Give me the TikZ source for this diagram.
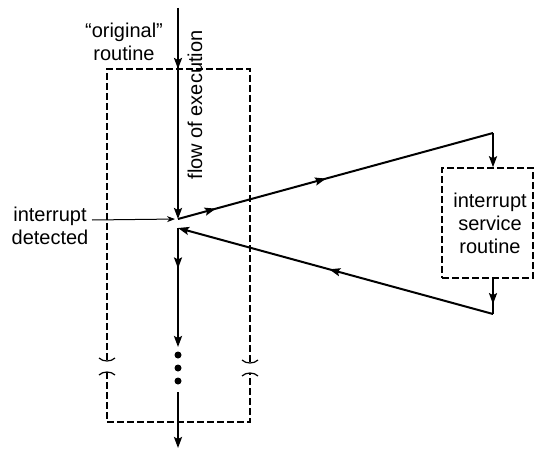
\documentclass[tikz,border=0pt]{standalone}
\usepackage{fontspec}
\setmainfont{Liberation Sans}
\usetikzlibrary{arrows.meta,decorations.markings,calc}
\begin{document}
\begin{tikzpicture}[x=0.5pt,y=-0.5pt,
  tip/.tip={Stealth[length=5.5pt,width=4pt,inset=1pt]},
  flow/.style={line width=1pt},
  dbox/.style={line width=0.75pt,dash pattern=on 3.5pt off 1.5pt},
  lbl/.style={font=\fontsize{10}{11.5}\selectfont,align=center,inner sep=0pt},
  midarrow/.style={postaction={decorate},decoration={markings,mark=at position #1 with {\arrow{tip}}}},
  midarrows/.style 2 args={postaction={decorate},decoration={markings,mark=at position #1 with {\arrow{tip}},mark=at position #2 with {\arrow{tip}}}},
  brk/.style={line width=0.6pt},
  dot/.style={circle,fill=black,inner sep=0pt,minimum size=3.5pt}]
\useasboundingbox (0,0) rectangle (535,449);

% coordinates
\coordinate (top) at (178,8);
\coordinate (apex) at (178,219);
\coordinate (ret) at (178,228);
\coordinate (c1) at (493,133);
\coordinate (c2) at (493,314);
\coordinate (low) at (178,347);
\coordinate (cont) at (178,392);
\coordinate (bot) at (178,448);
\coordinate (idstart) at (92,220);

% original routine box (with break)
\draw[dbox] (107,360) -- (107,69) -- (250,69) -- (250,362);
\draw[dbox] (107,372) -- (107,422) -- (250,422) -- (250,373);
% break marks
\draw[brk] (99,358) .. controls (103,362) and (111,362) .. (115,358);
\draw[brk] (99,375) .. controls (103,371) and (111,371) .. (115,375);
\draw[brk] (242,360) .. controls (246,364) and (254,364) .. (258,360);
\draw[brk] (242,376) .. controls (246,372) and (254,372) .. (258,376);

% ISR box
\node[draw,dbox,minimum width=45.5pt,minimum height=55pt,inner sep=0pt] (isr) at (487.5,223) {};
\node[lbl] (isrtext) at (490,223) {interrupt\\service\\routine};

% labels
\node[lbl] (orig) at (124,42) {“original”\\routine};
\node[lbl,rotate=90] (flowlbl) at (195,105) {flow of execution};
\node[lbl] (intdet) at (50,226) {interrupt\\detected};

% flow
\draw[flow,midarrow=0.289,-{tip}] (top) -- (apex);
\draw[flow,midarrows={0.12}{0.47}] (apex) -- (c1);
\draw[flow,-{tip}] (c1) -- (c1 |- isr.north);
\draw[flow,midarrow=0.72] (c2 |- isr.south) -- (c2);
\draw[flow,midarrow=0.52,-{tip}] (c2) -- (ret);
\draw[flow,midarrow=0.34,-{tip}] (ret) -- (low);
\node[dot] (d1) at (178,355) {};
\node[dot] (d2) at (178,368) {};
\node[dot] (d3) at (178,381) {};
\draw[flow,-{tip}] (cont) -- (bot);

% interrupt detected arrow
\draw[line width=0.5pt,-{Stealth[length=4pt,width=3pt]},shorten >=1.5pt] (idstart) -- (apex);
\end{tikzpicture}
\end{document}
